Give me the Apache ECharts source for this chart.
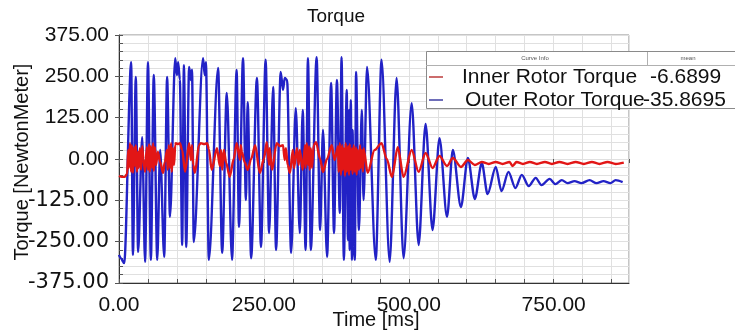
<!DOCTYPE html>
<html>
<head>
<meta charset="utf-8">
<style>
  html, body { margin: 0; padding: 0; background: #fff; }
  #chart { width: 735px; height: 331px; }
</style>
<script src="https://cdn.jsdelivr.net/npm/echarts@6.0.0/dist/echarts.min.js"></script>
</head>
<body>
<div id="chart"></div>
<script>
// Outer rotor torque [N·m] against time [ms]
const outerTime = [
  0, 3, 9, 21, 24, 29, 33, 40, 45, 50,
  55, 60, 66, 71, 78, 83, 88, 97, 100, 102,
  105, 109, 112, 116, 121, 124, 126, 129, 145, 148,
  150, 155, 171, 178, 186, 195, 203, 207, 214, 219,
  222, 228, 238, 245, 253, 259, 266, 271, 279, 283,
  286, 290, 297, 305, 312, 317, 322, 326, 331, 341,
  347, 352, 359, 366, 371, 376, 381, 384, 388, 393,
  395, 397, 398, 400, 402, 403, 405, 407, 409, 414,
  419, 422, 428, 443, 453, 467, 479, 491, 505, 517,
  529, 541, 553, 566, 576, 590, 602, 614, 626, 636,
  650, 660, 672, 684, 695, 707, 719, 729, 743, 753,
  764, 774, 786, 798, 812, 824, 836, 848, 857, 869
];
const outerTorque = [
  -290, -300, -315, 293, -290, 248, -281, 66, -311, 293,
  -305, 254, -305, 27, -296, 248, -175, 305, 254, 293,
  240, -260, 284, -266, 278, 239, 270, -251, 305, 254,
  293, -305, 275, -284, 200, -305, 269, -205, 305, -124,
  172, -300, 245, -266, 300, -224, 218, -275, 263, 209,
  245, 239, -284, 154, -224, 148, -275, 305, -275, 308,
  -215, 88, -296, 230, -224, 239, -163, 308, -305, 209,
  -245, 148, -275, 178, -305, 88, -260, -305, 263, -215,
  148, -124, 278, -305, 300, -311, 245, -300, 169, -260,
  106, -215, 63, -175, 27, -145, 3, -121, -12, -106,
  -24, -97, -39, -88, -48, -82, -57, -79, -60, -76,
  -64, -73, -67, -73, -64, -73, -67, -73, -64, -70
];

// Inner rotor torque [N·m] against time [ms]
const innerTime = [
  0, 5, 10, 14, 16, 17, 19, 21, 22, 24,
  26, 28, 29, 31, 33, 34, 36, 38, 40, 42,
  45, 48, 50, 52, 53, 55, 57, 59, 60, 62,
  64, 67, 71, 76, 79, 83, 84, 86, 88, 90,
  91, 93, 95, 97, 98, 102, 105, 109, 114, 121,
  124, 126, 128, 131, 138, 141, 147, 152, 155, 160,
  169, 174, 176, 178, 181, 185, 191, 198, 203, 209,
  210, 212, 217, 222, 228, 235, 243, 250, 255, 259,
  260, 264, 272, 278, 283, 286, 288, 291, 295, 300,
  302, 307, 310, 312, 317, 321, 322, 324, 326, 328,
  329, 331, 333, 336, 340, 347, 352, 359, 367, 372,
  378, 379, 381, 383, 385, 386, 388, 390, 391, 393,
  395, 397, 398, 400, 402, 403, 405, 407, 409, 410,
  412, 414, 416, 417, 419, 421, 422, 429, 441, 453,
  462, 471, 481, 491, 505, 517, 529, 541, 553, 566,
  576, 590, 602, 614, 626, 638, 650, 662, 674, 679,
  686, 697, 709, 721, 735, 747, 760, 774, 788, 802,
  816, 829, 843, 857, 871
];
const innerTorque = [
  -51, -54, -54, -45, 27, -27, 48, -39, 42, -42,
  36, -21, 42, -39, 21, -27, 33, -33, 39, 0,
  -39, 36, -33, 45, -39, 39, -27, 48, -36, 36,
  -18, 21, -9, -42, -10, 27, -33, 42, -27, 48,
  -39, 33, -18, 42, 48, 45, 48, 27, -39, 48,
  -3, 42, -18, -42, 42, 48, 45, 48, 30, -33,
  33, -21, 27, -33, 27, -12, -54, 0, 48, -3,
  42, 21, -10, -33, 0, 42, -42, 0, 51, -18,
  33, -33, 48, 39, 42, -3, 33, -18, -42, 27,
  -27, 33, -18, 27, -33, 42, -27, 48, -18, 39,
  -33, 33, -27, 42, 51, 0, -39, 0, 42, -3,
  39, -39, 48, -48, 42, -33, 33, -51, 48, -39,
  39, -48, 45, -33, 33, -45, 42, -39, 36, -48,
  27, -33, 42, -27, 27, -39, 33, -42, 27, 48,
  0, -54, 36, -54, 27, -39, 18, -27, 9, -21,
  3, -24, -3, -18, -9, -15, -9, -15, -9, -21,
  -9, -15, -9, -15, -9, -15, -9, -15, -9, -15,
  -9, -15, -9, -15, -11
];

// Curve info table
const curveNames = ['Inner Rotor Torque', 'Outer Rotor Torque'];
const curveMeans = ['-6.6899', '-35.8695'];
const curveColors = ['#e21616', '#2222c6'];
const keyColors = ['#c04848', '#4a4aa8'];

const yTicks = { min: -375, max: 375, step: 25, labelStep: 125 };
const xTicks = { min: 0, max: 880, step: 50, labelStep: 250 };

const FONT = '"Liberation Sans", Arial, sans-serif';

function zip(t, v) { return t.map((x, i) => [x, v[i]]); }

const chart = echarts.init(document.getElementById('chart'), null, { renderer: 'canvas' });

const gridLine = { show: true, lineStyle: { color: '#e0e0e0', width: 1 } };

const legendY = [77, 100];
const legendGraphics = [
  { type: 'rect', shape: { x: 426.5, y: 51.5, width: 330, height: 57 },
    style: { fill: '#fff', stroke: '#8a8a8a', lineWidth: 1 }, z: 100 },
  { type: 'line', shape: { x1: 426, y1: 65.5, x2: 740, y2: 65.5 },
    style: { stroke: '#b0b0b0', lineWidth: 1 }, z: 101 },
  { type: 'line', shape: { x1: 647.5, y1: 52, x2: 647.5, y2: 65 },
    style: { stroke: '#b0b0b0', lineWidth: 1 }, z: 101 },
  { type: 'text', x: 535, y: 58.5, z: 101,
    style: { text: 'Curve Info', font: '6px ' + FONT, fill: '#555', align: 'center', verticalAlign: 'middle' } },
  { type: 'text', x: 688, y: 58.5, z: 101,
    style: { text: 'mean', font: '6px ' + FONT, fill: '#555', align: 'center', verticalAlign: 'middle' } }
];
curveNames.forEach((name, i) => {
  legendGraphics.push(
    { type: 'line', shape: { x1: 429, y1: legendY[i], x2: 443, y2: legendY[i] },
      style: { stroke: keyColors[i], lineWidth: 1.6 }, z: 101 },
    { type: 'text', x: i === 0 ? 462 : 465, y: legendY[i], z: 101,
      style: { text: name, font: '21px ' + FONT, fill: '#111', verticalAlign: 'middle' } },
    { type: 'text', x: i === 0 ? 650 : 643, y: legendY[i], z: 101,
      style: { text: curveMeans[i], font: '21px ' + FONT, fill: '#111', verticalAlign: 'middle' } }
  );
});

// Short outward ticks at the labelled values
const outerTick = { show: true, inside: false, length: 4, lineStyle: { color: '#555' } };

chart.setOption({
  animation: false,
  backgroundColor: '#fff',
  grid: {
    left: 119, right: 106, top: 35, bottom: 48,
    outerBoundsMode: 'none', containLabel: false,
    show: true, borderColor: '#8c8c8c', borderWidth: 1
  },
  xAxis: [
    {
      type: 'value', min: xTicks.min, max: xTicks.max, interval: xTicks.step,
      axisLine: { show: true, onZero: false, lineStyle: { color: '#333', width: 1 } },
      axisTick: { show: true, inside: true, length: 4, lineStyle: { color: '#555' } },
      splitLine: gridLine,
      axisLabel: {
        fontSize: 21, fontFamily: FONT, color: '#111', margin: 12,
        showMaxLabel: false, hideOverlap: false,
        formatter: v => (v % xTicks.labelStep === 0 ? v.toFixed(2) : '')
      }
    },
    {
      type: 'value', position: 'bottom', min: xTicks.min, max: xTicks.max, interval: xTicks.labelStep,
      axisLine: { show: false }, axisTick: outerTick, axisLabel: { show: false }, splitLine: { show: false }
    }
  ],
  yAxis: [
    {
      type: 'value', min: yTicks.min, max: yTicks.max, interval: yTicks.step,
      axisLine: { show: true, onZero: false, lineStyle: { color: '#333', width: 1 } },
      axisTick: { show: true, inside: true, length: 4, lineStyle: { color: '#555' } },
      splitLine: gridLine,
      axisLabel: {
        fontSize: 21, fontFamily: FONT, color: '#111', margin: 10,
        hideOverlap: false,
        formatter: v => {
          if (v % yTicks.labelStep !== 0) return '';
          return v < 0 ? '{neg|' + v.toFixed(2) + '}' : v.toFixed(2);
        },
        rich: {
          neg: { fontSize: 21, fontFamily: '"DejaVu Sans", sans-serif', color: '#111' }
        }
      }
    },
    {
      type: 'value', position: 'left', min: yTicks.min, max: yTicks.max, interval: yTicks.labelStep,
      axisLine: { show: false }, axisTick: outerTick, axisLabel: { show: false }, splitLine: { show: false }
    }
  ],
  series: [
    {
      name: curveNames[1], type: 'line', data: zip(outerTime, outerTorque),
      showSymbol: false, smooth: 0.3, smoothMonotone: 'x',
      lineStyle: { color: curveColors[1], width: 2.4 }, z: 2
    },
    {
      name: curveNames[0], type: 'line', data: zip(innerTime, innerTorque),
      showSymbol: false, smooth: 0.3, smoothMonotone: 'x',
      lineStyle: { color: curveColors[0], width: 2.4 }, z: 3
    }
  ],
  graphic: [
    { type: 'text', x: 336, y: 17,
      style: { text: 'Torque', font: '19px ' + FONT, fill: '#111', align: 'center', verticalAlign: 'middle' } },
    { type: 'text', x: 22, y: 162, rotation: Math.PI / 2,
      style: { text: 'Torque [NewtonMeter]', font: '20px ' + FONT, fill: '#111', align: 'center', verticalAlign: 'middle' } },
    { type: 'text', x: 376, y: 320,
      style: { text: 'Time [ms]', font: '20px ' + FONT, fill: '#111', align: 'center', verticalAlign: 'middle' } },
    ...legendGraphics
  ]
});
</script>
</body>
</html>
